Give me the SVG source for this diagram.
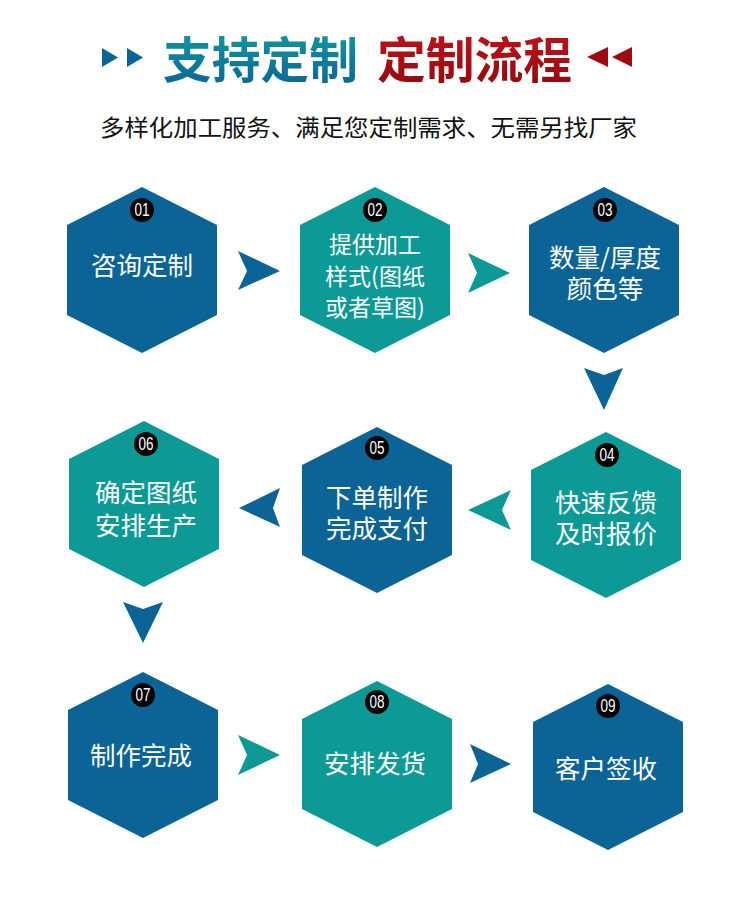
<svg xmlns="http://www.w3.org/2000/svg" width="750" height="900" viewBox="0 0 750 900">
<defs>
<linearGradient id="gBlue" x1="0" y1="0" x2="0" y2="1">
<stop offset="0" stop-color="#14a19e"/>
<stop offset="1" stop-color="#0a6198"/>
</linearGradient>
<linearGradient id="gRed" x1="0" y1="0" x2="0" y2="1">
<stop offset="0" stop-color="#c8141c"/>
<stop offset="1" stop-color="#8e0a0e"/>
</linearGradient>
<path id="hex" d="M0,-83 L75,-45 L75,45 L0,83 L-75,45 L-75,-45 Z"/>
</defs>
<style>
.blue{fill:#0b6396}
.teal{fill:#0d9a96}
.badge{fill:#000}
.num{fill:#fff;font-family:"Liberation Sans Narrow","Liberation Sans",Arial,sans-serif;font-size:18px;text-anchor:middle;dominant-baseline:central}
.lbl{fill:#fff;font-family:"Noto Sans CJK SC","Microsoft YaHei",sans-serif;font-size:25.5px;text-anchor:middle;dominant-baseline:central}
.lbl2{font-size:23px}
.title{font-family:"Noto Sans CJK SC",sans-serif;font-weight:700;font-size:49px;text-anchor:middle;dominant-baseline:central}
.sub{fill:#111;font-family:"Noto Sans CJK SC",sans-serif;font-size:23px;text-anchor:middle;dominant-baseline:central}
</style>
<rect width="750" height="900" fill="#fff"/>

<g id="header">
<polygon points="102,48 118,57.5 102,67" fill="#0b6396"/>
<polygon points="127,48 143,57.5 127,67" fill="#0b6396"/>
<text class="title" x="260.5" y="56" fill="url(#gBlue)" textLength="195" lengthAdjust="spacingAndGlyphs">支持定制</text>
<text class="title" x="474.5" y="56" fill="url(#gRed)" textLength="195" lengthAdjust="spacingAndGlyphs">定制流程</text>
<polygon points="608,47 587,57 608,67" fill="#a00a0e"/>
<polygon points="632,47 612,57 632,67" fill="#a00a0e"/>
<text class="sub" x="368.5" y="126" textLength="537" lengthAdjust="spacingAndGlyphs">多样化加工服务、满足您定制需求、无需另找厂家</text>
</g>

<g id="connectors">
<polygon class="blue" points="238,251 280,271 238,290 247,271"/>
<polygon class="teal" points="468,253 510,273 468,293 477,273"/>
<polygon class="blue" points="584,368 604,375 623,368 604,410"/>
<polygon class="teal" points="468,510 511,490 502,510 511,530"/>
<polygon class="blue" points="239,508 280,488 273,508 280,527"/>
<polygon class="blue" points="123,602 143,609 163,602 143,643"/>
<polygon class="teal" points="238,735 280,755 238,775 247,755"/>
<polygon class="blue" points="470,744 511,764 470,783 478,764"/>
</g>

<g id="node1">
<use href="#hex" class="blue" x="142" y="270"/>
<circle class="badge" cx="142" cy="210" r="12"/>
<text class="num" x="142" y="210" textLength="15" lengthAdjust="spacingAndGlyphs">01</text>
<text class="lbl" x="142" y="263" font-size="27">咨询定制</text>
</g>
<g id="node2">
<use href="#hex" class="teal" x="375" y="270"/>
<circle class="badge" cx="375" cy="210" r="12"/>
<text class="num" x="375" y="210" textLength="15" lengthAdjust="spacingAndGlyphs">02</text>
<text class="lbl lbl2" x="375" y="243">提供加工</text>
<text class="lbl lbl2" x="375" y="275">样式(图纸</text>
<text class="lbl lbl2" x="375" y="306">或者草图)</text>
</g>
<g id="node3">
<use href="#hex" class="blue" x="604" y="270"/>
<circle class="badge" cx="605" cy="210" r="12"/>
<text class="num" x="605" y="210" textLength="15" lengthAdjust="spacingAndGlyphs">03</text>
<text class="lbl" x="605" y="255">数量/厚度</text>
<text class="lbl" x="605" y="286">颜色等</text>
</g>
<g id="node4">
<use href="#hex" class="teal" x="606" y="515"/>
<circle class="badge" cx="607" cy="455" r="12"/>
<text class="num" x="607" y="455" textLength="15" lengthAdjust="spacingAndGlyphs">04</text>
<text class="lbl" x="606" y="500">快速反馈</text>
<text class="lbl" x="606" y="531">及时报价</text>
</g>
<g id="node5">
<use href="#hex" class="blue" x="377" y="510"/>
<circle class="badge" cx="377" cy="448" r="12"/>
<text class="num" x="377" y="448" textLength="15" lengthAdjust="spacingAndGlyphs">05</text>
<text class="lbl" x="377" y="495">下单制作</text>
<text class="lbl" x="377" y="526">完成支付</text>
</g>
<g id="node6">
<use href="#hex" class="teal" x="144" y="504"/>
<circle class="badge" cx="146" cy="444" r="12"/>
<text class="num" x="146" y="444" textLength="15" lengthAdjust="spacingAndGlyphs">06</text>
<text class="lbl" x="146" y="490">确定图纸</text>
<text class="lbl" x="146" y="523">安排生产</text>
</g>
<g id="node7">
<use href="#hex" class="blue" x="143" y="755"/>
<circle class="badge" cx="143" cy="695" r="12"/>
<text class="num" x="143" y="695" textLength="15" lengthAdjust="spacingAndGlyphs">07</text>
<text class="lbl" x="141" y="753">制作完成</text>
</g>
<g id="node8">
<use href="#hex" class="teal" x="377" y="764"/>
<circle class="badge" cx="377" cy="702" r="12"/>
<text class="num" x="377" y="702" textLength="15" lengthAdjust="spacingAndGlyphs">08</text>
<text class="lbl" x="375" y="761">安排发货</text>
</g>
<g id="node9">
<use href="#hex" class="blue" x="608" y="767"/>
<circle class="badge" cx="608" cy="706" r="12"/>
<text class="num" x="608" y="706" textLength="15" lengthAdjust="spacingAndGlyphs">09</text>
<text class="lbl" x="606" y="766">客户签收</text>
</g>
</svg>
